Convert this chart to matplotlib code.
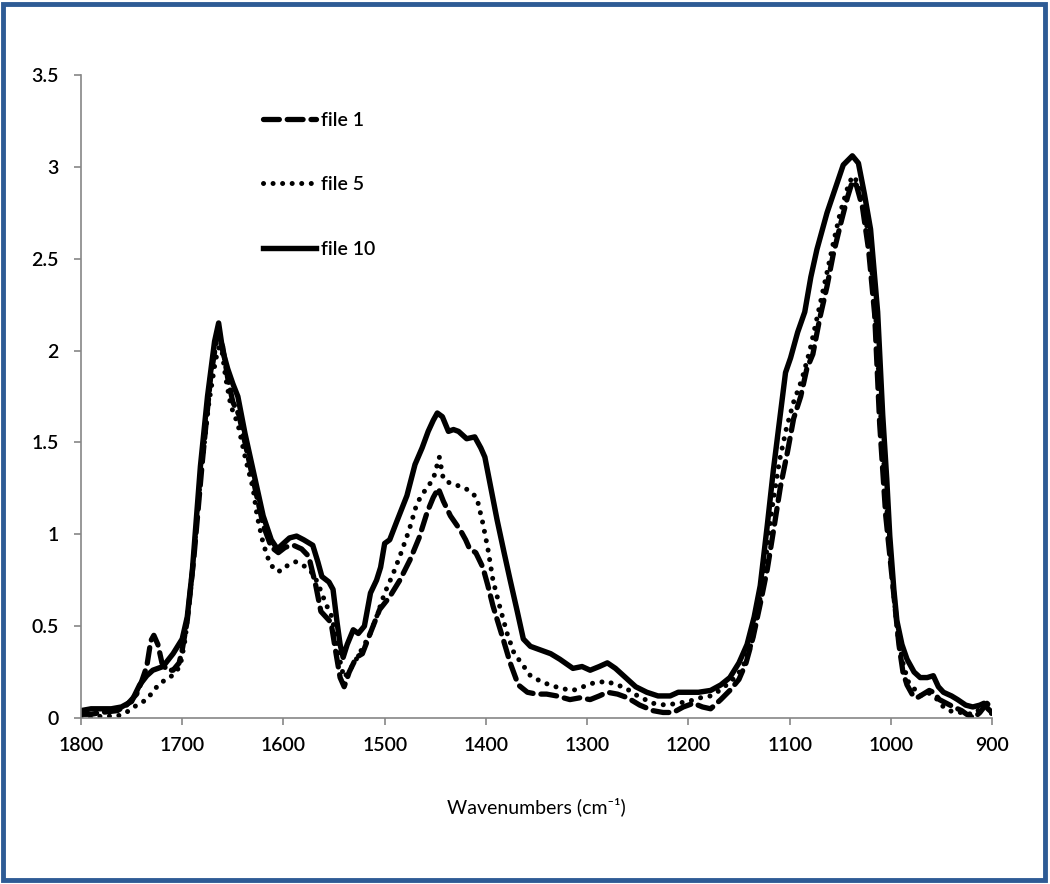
import matplotlib
matplotlib.use("Agg")
import matplotlib.pyplot as plt
from matplotlib.patches import Rectangle
from matplotlib.ticker import FixedLocator, FuncFormatter

# file 1 (dashed)
wn1 = [1800, 1790, 1780, 1764, 1755, 1745, 1740, 1735, 1731, 1728, 1724, 1720, 1715, 1709, 1703, 1700,
       1695, 1688, 1680, 1672, 1665, 1660, 1655, 1650, 1644, 1636, 1628, 1620, 1612, 1605, 1598, 1590,
       1582, 1575, 1568, 1563, 1558, 1553, 1548, 1544, 1540, 1535, 1528, 1522, 1515, 1505, 1495, 1485,
       1475, 1466, 1458, 1452, 1447, 1442, 1435, 1425, 1420, 1416, 1410, 1403, 1398, 1393, 1388, 1383,
       1376, 1368, 1359, 1350, 1340, 1330, 1317, 1307, 1297, 1288, 1280, 1270, 1260, 1248, 1235, 1225,
       1215, 1205, 1195, 1186, 1178, 1168, 1159, 1150, 1143, 1136, 1129, 1122, 1115, 1109, 1102, 1096,
       1089, 1083, 1077, 1070, 1063, 1057, 1050, 1043, 1038, 1034, 1028, 1022, 1016, 1011, 1005, 998,
       992, 988, 984, 978, 974, 968, 962, 958, 952, 945, 938, 930, 925, 918, 912, 905, 900]
ab1 = [0.02, 0.02, 0.03, 0.04, 0.07, 0.13, 0.20, 0.28, 0.42, 0.45, 0.40, 0.30, 0.26, 0.26, 0.30, 0.37,
       0.53, 0.90, 1.40, 1.85, 2.10, 2.02, 1.85, 1.72, 1.65, 1.45, 1.25, 1.05, 0.93, 0.90, 0.93, 0.94,
       0.92, 0.88, 0.72, 0.58, 0.55, 0.52, 0.35, 0.22, 0.17, 0.25, 0.33, 0.35, 0.45, 0.59, 0.66, 0.75,
       0.86, 0.98, 1.12, 1.20, 1.25, 1.18, 1.10, 1.02, 0.97, 0.92, 0.90, 0.82, 0.72, 0.61, 0.52, 0.43,
       0.30, 0.18, 0.14, 0.13, 0.13, 0.12, 0.10, 0.11, 0.10, 0.12, 0.14, 0.13, 0.11, 0.07, 0.04, 0.03,
       0.03, 0.06, 0.08, 0.06, 0.05, 0.10, 0.15, 0.21, 0.30, 0.44, 0.62, 0.81, 1.05, 1.26, 1.45, 1.63,
       1.75, 1.90, 1.98, 2.18, 2.35, 2.52, 2.68, 2.83, 2.92, 2.90, 2.78, 2.55, 2.20, 1.60, 1.10, 0.72,
       0.40, 0.25, 0.18, 0.12, 0.11, 0.13, 0.15, 0.14, 0.10, 0.08, 0.06, 0.04, 0.02, 0.00, 0.03, 0.08, 0.05]

# file 5 (dotted)
wn5 = [1800, 1790, 1780, 1764, 1752, 1745, 1735, 1728, 1722, 1712, 1702, 1697, 1690, 1682, 1674, 1667,
       1662, 1657, 1652, 1645, 1637, 1630, 1626, 1620, 1614, 1608, 1602, 1596, 1588, 1577, 1570, 1565,
       1558, 1552, 1547, 1543, 1540, 1536, 1530, 1522, 1515, 1508, 1500, 1492, 1485, 1476, 1468, 1460,
       1452, 1446, 1442, 1436, 1425, 1417, 1409, 1403, 1398, 1393, 1386, 1379, 1372, 1365, 1356, 1346,
       1337, 1325, 1314, 1304, 1294, 1280, 1272, 1264, 1250, 1235, 1222, 1211, 1200, 1188, 1178, 1169,
       1160, 1152, 1146, 1138, 1131, 1124, 1117, 1110, 1103, 1096, 1088, 1080, 1072, 1064, 1057, 1050,
       1043, 1038, 1033, 1027, 1021, 1015, 1010, 1004, 998, 993, 988, 983, 977, 971, 965, 960,
       954, 948, 942, 936, 928, 920, 914, 908, 904, 900]
ab5 = [0.00, 0.00, 0.01, 0.01, 0.04, 0.07, 0.10, 0.15, 0.19, 0.22, 0.28, 0.43, 0.80, 1.30, 1.70, 1.95,
       2.05, 1.85, 1.70, 1.60, 1.40, 1.25, 1.10, 0.95, 0.85, 0.80, 0.80, 0.83, 0.85, 0.82, 0.78, 0.72,
       0.62, 0.55, 0.40, 0.28, 0.22, 0.25, 0.30, 0.38, 0.45, 0.55, 0.68, 0.78, 0.88, 1.02, 1.17, 1.24,
       1.30, 1.42, 1.30, 1.28, 1.26, 1.24, 1.20, 1.06, 0.92, 0.75, 0.60, 0.46, 0.35, 0.30, 0.23, 0.20,
       0.18, 0.16, 0.15, 0.17, 0.19, 0.20, 0.18, 0.17, 0.12, 0.08, 0.07, 0.08, 0.09, 0.11, 0.12, 0.15,
       0.19, 0.23, 0.28, 0.40, 0.58, 0.85, 1.15, 1.40, 1.58, 1.72, 1.84, 2.00, 2.20, 2.40, 2.58, 2.75,
       2.88, 2.95, 2.92, 2.80, 2.58, 2.20, 1.65, 1.15, 0.72, 0.45, 0.30, 0.20, 0.16, 0.12, 0.14, 0.13,
       0.10, 0.06, 0.04, 0.03, 0.03, 0.02, 0.04, 0.07, 0.05, 0.02]

# file 10 (solid)
wn10 = [1800, 1790, 1780, 1770, 1760, 1750, 1742, 1735, 1729, 1719, 1709, 1700, 1695, 1690, 1682, 1675,
        1668, 1664, 1660, 1655, 1650, 1645, 1638, 1630, 1620, 1612, 1606, 1600, 1594, 1587, 1580, 1571,
        1566, 1562, 1555, 1551, 1547, 1544, 1541, 1537, 1531, 1526, 1520, 1514, 1508, 1504, 1500, 1495,
        1488, 1478, 1470, 1463, 1457, 1452, 1448, 1443, 1437, 1432, 1427, 1419, 1411, 1405, 1401, 1395,
        1389, 1382, 1376, 1369, 1363, 1356, 1346, 1336, 1327, 1314, 1305, 1297, 1288, 1280, 1272, 1264,
        1252, 1241, 1230, 1218, 1210, 1201, 1190, 1178, 1168, 1159, 1150, 1142, 1135, 1129, 1122, 1116,
        1109, 1104, 1099, 1092, 1085, 1079, 1073, 1068, 1063, 1055, 1047, 1038, 1032, 1026, 1020, 1013,
        1008, 1004, 1001, 997, 994, 989, 984, 977, 971, 964, 958, 953, 948, 940, 934, 926,
        919, 912, 908, 904, 900]
ab10 = [0.04, 0.05, 0.05, 0.05, 0.06, 0.09, 0.18, 0.23, 0.26, 0.28, 0.35, 0.43, 0.55, 0.80, 1.37, 1.75,
        2.05, 2.15, 2.00, 1.90, 1.82, 1.75, 1.55, 1.35, 1.10, 0.97, 0.92, 0.95, 0.98, 0.99, 0.97, 0.94,
        0.85, 0.77, 0.74, 0.70, 0.52, 0.40, 0.33, 0.40, 0.48, 0.46, 0.50, 0.68, 0.75, 0.82, 0.95, 0.97,
        1.07, 1.21, 1.38, 1.47, 1.56, 1.62, 1.66, 1.64, 1.56, 1.57, 1.56, 1.52, 1.53, 1.47, 1.42, 1.25,
        1.08, 0.90, 0.75, 0.58, 0.43, 0.39, 0.37, 0.35, 0.32, 0.27, 0.28, 0.26, 0.28, 0.30, 0.27, 0.23,
        0.17, 0.14, 0.12, 0.12, 0.14, 0.14, 0.14, 0.15, 0.18, 0.22, 0.30, 0.40, 0.55, 0.72, 1.05, 1.35,
        1.66, 1.88, 1.96, 2.10, 2.21, 2.40, 2.55, 2.65, 2.75, 2.88, 3.01, 3.06, 3.02, 2.85, 2.66, 2.21,
        1.65, 1.30, 0.99, 0.70, 0.53, 0.40, 0.32, 0.25, 0.22, 0.22, 0.23, 0.17, 0.14, 0.12, 0.10, 0.07,
        0.06, 0.07, 0.08, 0.05, 0.03]

yticks = [0, 0.5, 1, 1.5, 2, 2.5, 3, 3.5]
xticks = [1800, 1700, 1600, 1500, 1400, 1300, 1200, 1100, 1000, 900]

plt.rcParams['font.family'] = ['Lato', 'DejaVu Sans']
plt.rcParams['font.weight'] = 'semibold'

fig = plt.figure(figsize=(10.5, 8.84), dpi=100)
ax = fig.add_axes([0.0771, 0.1878, 0.8677, 0.7274])

ax.plot(wn1, ab1, color='black', lw=3.8, ls=(0, (3, 1.5)), dash_capstyle='round',
        solid_joinstyle='round', label='file 1')
ax.plot(wn5, ab5, color='black', lw=3.6, ls=(0, (0.01, 1.9)), dash_capstyle='round', label='file 5')
ax.plot(wn10, ab10, color='black', lw=3.9, solid_joinstyle='round', label='file 10')

ax.set_xlim(1800, 900)
ax.set_ylim(0, 3.5)
ax.xaxis.set_major_locator(FixedLocator(xticks))
ax.yaxis.set_major_locator(FixedLocator(yticks))
ax.yaxis.set_major_formatter(FuncFormatter(lambda v, p: '%g' % v))

for s in ['top', 'right']:
    ax.spines[s].set_visible(False)
for s in ['left', 'bottom']:
    ax.spines[s].set_color('#868686')
    ax.spines[s].set_linewidth(1.2)
ax.tick_params(axis='both', direction='out', length=5, width=1.2, color='#868686',
               labelsize=14, labelcolor='black')
ax.tick_params(axis='y', pad=11)
ax.tick_params(axis='x', pad=9)

ax.set_xlabel('Wavenumbers (cm\u207b\u00b9)', fontsize=14, labelpad=31)

ax.legend(loc='upper left', bbox_to_anchor=(0.2, 0.943), frameon=False, fontsize=14,
          handlelength=2.7, handletextpad=0.25, labelspacing=2.45, borderpad=0,
          borderaxespad=0)

fig.patches.append(Rectangle((0.003, 0.004), 0.992, 0.992, transform=fig.transFigure,
                             fill=False, edgecolor='#2E5B95', linewidth=3.5, zorder=10))

fig.savefig('out.png', dpi=100)
